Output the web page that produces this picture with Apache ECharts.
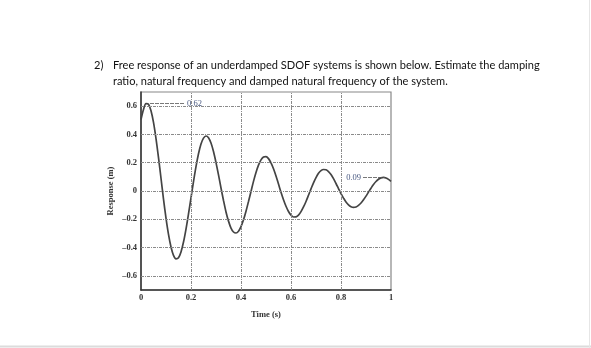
<!DOCTYPE html>
<html>
<head>
<meta charset="utf-8">
<script src="https://cdn.jsdelivr.net/npm/echarts@6/dist/echarts.min.js"></script>
<style>html,body{margin:0;padding:0;background:#fff}#c{width:591px;height:348px}</style>
</head>
<body>
<div id="c"></div>
<script>
// ---- data ----
var titleNum = '2)';
var titleLine1 = 'Free response of an underdamped SDOF systems is shown below. Estimate the damping';
var titleLine2 = 'ratio, natural frequency and damped natural frequency of the system.';
var xName = 'Time (s)';
var yName = 'Response (m)';
var xTicks = [0, 0.2, 0.4, 0.6, 0.8, 1];
var yTicks = [-0.6, -0.4, -0.2, 0, 0.2, 0.4, 0.6];
var gridX = [0.2, 0.4, 0.6, 0.8];
var times = [];
for (var i = 0; i <= 100; i++) times.push(i / 100);
var response = [
  0.505, 0.577, 0.618, 0.614, 0.568, 0.485, 0.371, 0.236, 0.090, -0.057,
 -0.192, -0.307, -0.396, -0.455, -0.480, -0.472, -0.431, -0.361, -0.269, -0.162,
 -0.048, 0.067, 0.173, 0.263, 0.332, 0.374, 0.389, 0.377, 0.339, 0.279,
  0.201, 0.114, 0.021, -0.067, -0.148, -0.213, -0.262, -0.290, -0.297, -0.284,
 -0.252, -0.204, -0.143, -0.074, -0.003, 0.068, 0.131, 0.183, 0.220, 0.240,
  0.243, 0.229, 0.199, 0.157, 0.106, 0.049, -0.009, -0.062, -0.108, -0.145,
 -0.171, -0.184, -0.183, -0.171, -0.146, -0.113, -0.074, -0.030, 0.015, 0.058,
  0.095, 0.125, 0.144, 0.152, 0.150, 0.137, 0.116, 0.087, 0.053, 0.017,
 -0.019, -0.050, -0.078, -0.098, -0.111, -0.116, -0.113, -0.102, -0.085, -0.062,
 -0.036, -0.008, 0.020, 0.046, 0.067, 0.083, 0.093, 0.096, 0.092, 0.082,
  0.068
];
var annot1 = { text: '0.62', from: [0.036, 0.62], to: [0.176, 0.62] };
var annot2 = { text: '0.09', from: [0.888, 0.097], to: [0.976, 0.097] };

// ---- fit title font so line 1 spans the reference width ----
var titleFamily = 'Lato, "Open Sans", sans-serif';
var cv = document.createElement('canvas').getContext('2d');
var fs = 12;
cv.font = fs + 'px ' + titleFamily;
var w = cv.measureText(titleLine1).width;
fs = Math.max(9, Math.min(14, fs * 427 / w));

var seriesData = times.map(function (t, k) { return [t, response[k]]; });
var gridLines = [];
gridX.forEach(function (v) { gridLines.push({ xAxis: v }); });
yTicks.forEach(function (v) { gridLines.push({ yAxis: v }); });

var labelFont = { fontFamily: '"Liberation Serif", "DejaVu Serif", serif', fontWeight: 'bold', fontSize: 8.5, color: '#333' };

var chart = echarts.init(document.getElementById('c'), null, { renderer: 'canvas' });
chart.setOption({
  backgroundColor: '#fff',
  animation: false,
  title: [
    { text: titleNum, left: 89, top: 52, textStyle: { fontFamily: titleFamily, fontSize: fs, fontWeight: 'normal', color: '#111', lineHeight: 16 } },
    { text: titleLine1 + '\n' + titleLine2, left: 108, top: 52,
      textStyle: { fontFamily: titleFamily, fontSize: fs, fontWeight: 'normal', color: '#111', lineHeight: 16 } }
  ],
  grid: { left: 141, right: 200, top: 92, bottom: 58, show: true, borderColor: '#888', borderWidth: 1.2, backgroundColor: 'transparent' },
  xAxis: {
    type: 'value', min: 0, max: 1, interval: 0.2,
    name: xName, nameLocation: 'middle', nameGap: 20,
    nameTextStyle: labelFont,
    axisLine: { show: true, onZero: false, lineStyle: { color: '#333', width: 1.5 } },
    axisTick: { show: false },
    splitLine: { show: false },
    axisLabel: Object.assign({ margin: 3, formatter: function (v) { return String(Math.round(v * 10) / 10); } }, labelFont)
  },
  yAxis: {
    type: 'value', min: -0.7, max: 0.7, interval: 0.1,
    name: yName, nameLocation: 'middle', nameGap: 26,
    nameTextStyle: labelFont,
    axisLine: { show: true, onZero: false, lineStyle: { color: '#333', width: 1.5 } },
    axisTick: { show: false },
    splitLine: { show: false },
    axisLabel: Object.assign({ margin: 4, formatter: function (v) {
      var n = Math.round(v * 10);
      if (n % 2 !== 0) return '';
      if (n === 0) return '0';
      return (n < 0 ? '\u2013' : '') + (Math.abs(n) / 10).toFixed(1);
    } }, labelFont)
  },
  series: [
    {
      type: 'line', data: [], silent: true,
      markLine: {
        silent: true, symbol: 'none', animation: false,
        label: { show: false },
        lineStyle: { color: '#8a8a8a', type: [3, 1, 1, 1], width: 1 },
        data: gridLines
      }
    },
    {
      type: 'line', data: seriesData, showSymbol: false, smooth: 0.3,
      lineStyle: { color: '#444', width: 1.7 },
      markLine: {
        silent: true, symbol: 'none', animation: false,
        lineStyle: { color: '#555', type: [4, 1], width: 0.8 },
        data: [
          [{ coord: annot1.from }, { coord: annot1.to, label: { show: true, position: 'end', formatter: annot1.text, distance: 2, color: '#4a5a82', fontSize: 8.5, fontFamily: '"Liberation Serif", serif' } }],
          [{ coord: annot2.from, label: { show: true, position: 'start', formatter: annot2.text, distance: 2, color: '#4a5a82', fontSize: 8.5, fontFamily: '"Liberation Serif", serif' } }, { coord: annot2.to }]
        ],
        label: { show: true }
      }
    }
  ],
  graphic: [
    { type: 'line', shape: { x1: 0, y1: 346.5, x2: 591, y2: 346.5 }, style: { stroke: '#dcdcdc', lineWidth: 2 }, silent: true },
    { type: 'line', shape: { x1: 589.5, y1: 0, x2: 589.5, y2: 348 }, style: { stroke: '#e6e6e6', lineWidth: 1 }, silent: true }
  ]
});
</script>
</body>
</html>
